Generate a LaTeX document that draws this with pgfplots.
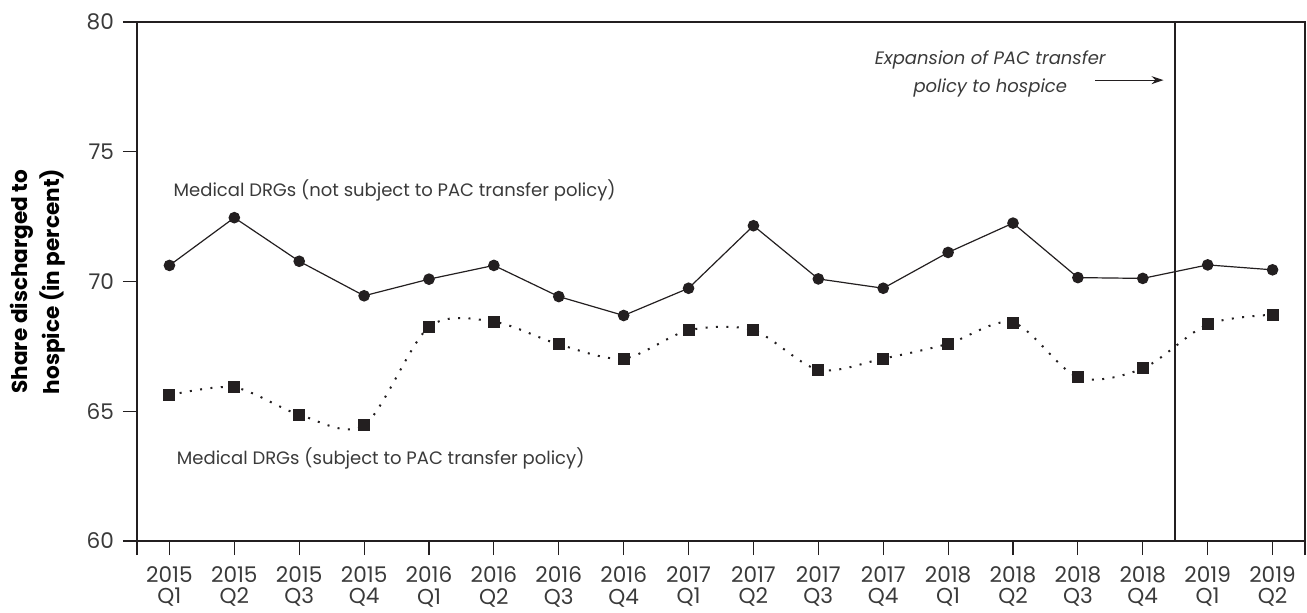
\documentclass[border=0pt]{standalone}
\usepackage{fontspec}
\setmainfont{Poppins}
\usepackage{pgfplots}
\pgfplotsset{compat=1.18}
\usetikzlibrary{arrows.meta}
\definecolor{ink}{HTML}{231F20}
\definecolor{txt}{HTML}{3A3A3A}
\begin{document}
\begin{tikzpicture}
\useasboundingbox (-68.5pt,-35.5pt) rectangle (585pt,270.5pt);
\begin{axis}[
  at={(0,0)}, anchor=south west,
  scale only axis, width=584pt, height=259.5pt,
  xmin=-0.5, xmax=17.5, ymin=60, ymax=80,
  ytick={60,65,70,75,80},
  xtick={0,...,17},
  xticklabels={{2015\\Q1},{2015\\Q2},{2015\\Q3},{2015\\Q4},{2016\\Q1},{2016\\Q2},{2016\\Q3},{2016\\Q4},{2017\\Q1},{2017\\Q2},{2017\\Q3},{2017\\Q4},{2018\\Q1},{2018\\Q2},{2018\\Q3},{2018\\Q4},{2019\\Q1},{2019\\Q2}},
  extra x ticks={-0.5,17.5}, extra x tick labels={},
  xtick pos=bottom, ytick pos=left,
  tick align=outside, major tick length=7pt,
  tick style={ink, line width=0.6pt},
  axis line style={ink, line width=0.6pt},
  x tick label style={align=center, font=\fontsize{10.8}{10.8}\selectfont, text=txt, yshift=-2.2pt},
  y tick label style={font=\fontsize{10.8}{12}\selectfont, text=txt, xshift=-1pt},
  /pgf/number format/assume math mode=true,
  ylabel={Share discharged to\\hospice (in percent)},
  ylabel style={align=center, font=\fontsize{10.8}{16}\selectfont\bfseries, text=black, at={(axis description cs:-0.0848,0.5)}, anchor=center},
  clip=false,
]
\addplot[ink, line width=0.6pt, mark=*, mark size=2.6pt, mark options={fill=ink, draw=ink}] coordinates {
(0,70.62) (1,72.46) (2,70.78) (3,69.45) (4,70.09) (5,70.62) (6,69.42) (7,68.69) (8,69.74) (9,72.15) (10,70.10) (11,69.74) (12,71.12) (13,72.25) (14,70.15) (15,70.12) (16,70.64) (17,70.45)
};
\addplot[ink, line width=1pt, smooth, dash pattern=on 1pt off 4.2pt, mark=square*, mark size=2.5pt, mark options={solid, fill=ink, draw=ink}] coordinates {
(0,65.62) (1,65.92) (2,64.87) (3,64.46) (4,68.25) (5,68.45) (6,67.58) (7,67.03) (8,68.12) (9,68.12) (10,66.60) (11,67.03) (12,67.60) (13,68.42) (14,66.31) (15,66.65) (16,68.35) (17,68.72)
};
\draw[ink, line width=0.8pt] (axis cs:15.5,60) -- (axis cs:15.5,80);
\node[anchor=west, text=txt, font=\fontsize{9}{12}\selectfont, inner sep=0pt] at (axis cs:0.06,73.5) {Medical DRGs (not subject to PAC transfer policy)};
\node[anchor=west, text=txt, font=\fontsize{9}{12}\selectfont, inner sep=0pt] at (axis cs:0.11,63.2) {Medical DRGs (subject to PAC transfer policy)};
\node[align=center, text=txt, font=\fontsize{9}{14}\selectfont\itshape, inner sep=0pt] at (axis cs:12.65,77.99) {Expansion of PAC transfer\\policy to hospice};
\draw[ink, line width=0.6pt, -{Stealth[length=6pt, width=4pt]}] (axis cs:14.27,77.76) -- (axis cs:15.32,77.76);
\end{axis}
\end{tikzpicture}
\end{document}
